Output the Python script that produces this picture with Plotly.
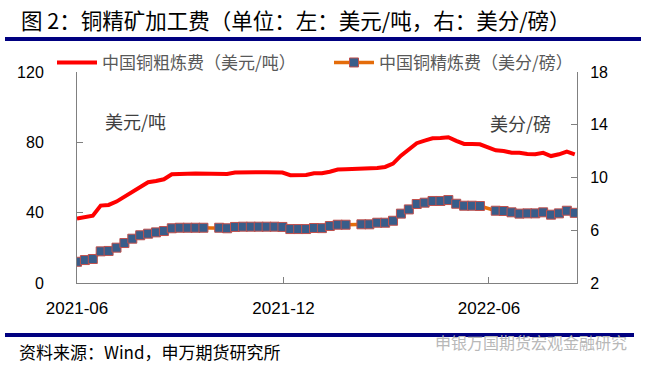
import plotly.graph_objects as go

dates = [
    "2021-06-04", "2021-06-11", "2021-06-18", "2021-06-25", "2021-07-02", "2021-07-09",
    "2021-07-16", "2021-07-23", "2021-07-30", "2021-08-06", "2021-08-13", "2021-08-20",
    "2021-08-27", "2021-09-03", "2021-09-10", "2021-09-17", "2021-09-24", "2021-10-08",
    "2021-10-15", "2021-10-22", "2021-10-29", "2021-11-05", "2021-11-12", "2021-11-19",
    "2021-11-26", "2021-12-03", "2021-12-10", "2021-12-17", "2021-12-24", "2021-12-31",
    "2022-01-07", "2022-01-14", "2022-01-21", "2022-01-28", "2022-02-11", "2022-02-18",
    "2022-02-25", "2022-03-04", "2022-03-11", "2022-03-18", "2022-03-25", "2022-04-01",
    "2022-04-08", "2022-04-15", "2022-04-22", "2022-04-29", "2022-05-06", "2022-05-13",
    "2022-05-20", "2022-05-27", "2022-06-10", "2022-06-17", "2022-06-24", "2022-07-01",
    "2022-07-08", "2022-07-15", "2022-07-22", "2022-07-29", "2022-08-05", "2022-08-12",
    "2022-08-19",
]

tc_usd_t = [
    36.6, 37.4, 38.3, 44.0, 44.4, 46.3, 49.1, 52.3, 55.0, 57.3, 58.0, 59.0,
    61.8, 62.2, 62.2, 62.3, 62.2, 62.2, 62.0, 62.8, 63.0, 63.0, 63.0, 63.0,
    63.0, 62.8, 61.3, 61.3, 61.4, 62.4, 62.4, 63.3, 64.5, 64.7, 64.8, 64.8,
    65.4, 66.0, 67.9, 72.4, 75.7, 79.5, 81.0, 82.3, 82.5, 82.9, 80.8, 79.1,
    79.1, 78.9, 75.5, 75.1, 74.1, 74.1, 73.4, 73.2, 74.0, 72.2, 73.2, 74.7,
    73.2,
]

rc_cent_lb = [
    3.61, 3.74, 3.82, 4.40, 4.43, 4.68, 5.03, 5.36, 5.62, 5.74, 5.84, 5.94,
    6.15, 6.19, 6.19, 6.19, 6.19, 6.19, 6.15, 6.25, 6.27, 6.27, 6.27, 6.27,
    6.27, 6.25, 6.09, 6.09, 6.09, 6.17, 6.16, 6.32, 6.42, 6.42, 6.45, 6.45,
    6.57, 6.57, 6.72, 7.26, 7.58, 7.99, 8.09, 8.22, 8.22, 8.29, 8.01, 7.86,
    7.86, 7.84, 7.48, 7.46, 7.36, 7.26, 7.28, 7.28, 7.36, 7.18, 7.28, 7.48,
    7.32,
]

name_tc = "中国铜粗炼费（美元/吨）"
name_rc = "中国铜精炼费（美分/磅）"
left_ticks = [0, 40, 80, 120]
right_ticks = [2, 6, 10, 14, 18]

CJK = "Noto Sans CJK SC"
LAT = "Liberation Sans, Arial, sans-serif"
AX = "#808080"

fig = go.Figure()
fig.add_trace(go.Scatter(
    x=dates, y=tc_usd_t, name=name_tc, mode="lines",
    line=dict(color="#FF0000", width=4), yaxis="y", legend="legend",
))
fig.add_trace(go.Scatter(
    x=dates, y=rc_cent_lb, name=name_rc, mode="lines+markers",
    line=dict(color="#E46C0A", width=3.5),
    marker=dict(symbol="square", size=9, color="#385D8A",
                line=dict(color="#C0504D", width=1)),
    yaxis="y2", legend="legend2",
))

leg_common = dict(
    orientation="h", xanchor="left", y=1.043, yanchor="middle",
    font=dict(family=CJK, size=17, color="#595959"),
    bgcolor="rgba(0,0,0,0)", itemwidth=40,
)

fig.update_layout(
    width=645, height=369,
    margin=dict(l=77, r=68, t=72, b=86, autoexpand=False),
    paper_bgcolor="white", plot_bgcolor="white",
    showlegend=True,
    legend=dict(x=-0.05, **leg_common),
    legend2=dict(x=0.504, **leg_common),
    xaxis=dict(
        type="date", range=["2021-06-04", "2022-08-21"],
        tick0="2021-06-04", dtick="M6", tickformat="%Y-%m",
        showgrid=False, zeroline=False,
        showline=True, linecolor=AX, linewidth=1,
        ticks="inside", ticklen=6, tickcolor=AX,
        tickfont=dict(family=LAT, size=17, color="#000000"),
        ticklabelstandoff=10,
    ),
    yaxis=dict(
        range=[0, 120], tickvals=left_ticks,
        showgrid=False, zeroline=False,
        showline=True, linecolor=AX, linewidth=1,
        ticks="inside", ticklen=6, tickcolor=AX,
        tickfont=dict(family=LAT, size=16, color="#000000"),
        ticklabelstandoff=29,
    ),
    yaxis2=dict(
        range=[2, 18], tickvals=right_ticks, overlaying="y", side="right",
        showgrid=False, zeroline=False,
        showline=True, linecolor=AX, linewidth=1,
        ticks="inside", ticklen=6, tickcolor=AX,
        tickfont=dict(family=LAT, size=16, color="#000000"),
        ticklabelstandoff=9,
    ),
    shapes=[
        dict(type="line", xref="paper", yref="paper", x0=-0.144, x1=1.128,
             y0=1.1564, y1=1.1564, line=dict(color="#000080", width=4)),
        dict(type="line", xref="paper", yref="paper", x0=-0.144, x1=1.114,
             y0=-0.2464, y1=-0.2464, line=dict(color="#000080", width=4)),
    ],
    annotations=[
        dict(text="图 2：铜精矿加工费（单位：左：美元/吨，右：美分/磅）",
             xref="paper", yref="paper", x=-0.116, y=1.251,
             xanchor="left", yanchor="middle", showarrow=False,
             font=dict(family=CJK, size=21.5, color="#000000")),
        dict(text="美元/吨", xref="paper", yref="paper", x=0.052, y=0.768,
             xanchor="left", yanchor="middle", showarrow=False,
             font=dict(family=CJK, size=18, color="#404040")),
        dict(text="美分/磅", xref="paper", yref="paper", x=0.952, y=0.758,
             xanchor="right", yanchor="middle", showarrow=False,
             font=dict(family=CJK, size=18, color="#404040")),
        dict(text="资料来源：Wind，申万期货研究所", xref="paper", yref="paper",
             x=-0.12, y=-0.327, xanchor="left", yanchor="middle", showarrow=False,
             font=dict(family=CJK, size=17, color="#000000")),
        dict(text="申银万国期货宏观金融研究", xref="paper", yref="paper",
             x=0.712, y=-0.28, xanchor="left", yanchor="middle", showarrow=False,
             font=dict(family=CJK, size=16, color="#B8B8B8")),
    ],
)

# remove the browser's default 8px page margin so the figure fills the window
fig.write_html(
    "out.html",
    config={"displayModeBar": False},
    post_script="document.body.style.margin='0';",
)
